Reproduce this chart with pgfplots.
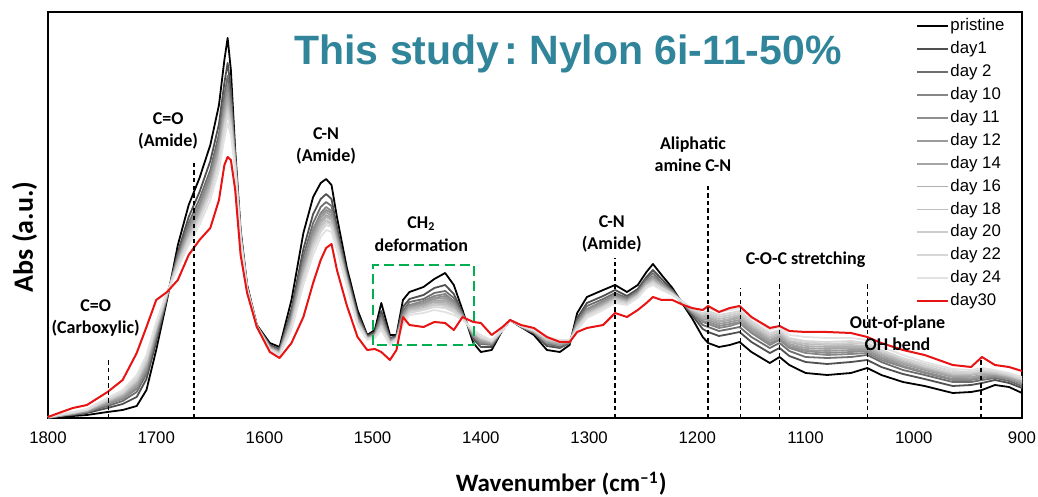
\documentclass[border=0pt]{standalone}
\usepackage{pgfplots}
\pgfplotsset{compat=1.18}
\usepackage{pgfplotstable}
\usepackage{fontspec}
\setmainfont{Liberation Sans}
\newfontfamily\calibri{Carlito}

\definecolor{titleteal}{RGB}{49,133,155}
\definecolor{boxgreen}{RGB}{0,176,80}
\definecolor{c1}{RGB}{80,80,80}
\definecolor{c2}{RGB}{110,110,110}
\definecolor{c10}{RGB}{135,135,135}
\definecolor{c11}{RGB}{142,142,142}
\definecolor{c12}{RGB}{155,155,155}
\definecolor{c14}{RGB}{165,165,165}
\definecolor{c16}{RGB}{176,176,176}
\definecolor{c18}{RGB}{190,190,190}
\definecolor{c20}{RGB}{205,205,205}
\definecolor{c22}{RGB}{215,215,215}
\definecolor{c24}{RGB}{226,226,226}
\definecolor{c30}{RGB}{232,20,20}

% absorbance (arbitrary units, 0 = bottom of frame)
\pgfplotstableread{
w    B   d1  d2  d10 d11 d12 d14 d16 d18 d20 d22 d24 R
1800 0   0   0   1   1   1   1   1   1   1   1   1   1
1790 1   2   2   2   2   2   2   3   3   3   3   3   5
1777 2   3   4   4   4   5   5   5   5   5   6   6   10
1764 3   5   6   6   7   7   7   8   8   8   8   9   13
1745 6   10  12  14  14  15  16  17  17  18  19  20  26
1731 8   14  17  19  20  21  22  23  24  25  26  28  38
1718 12  21  26  29  31  32  34  35  37  38  40  43  65
1709 28  39  44  47  49  51  53  54  56  58  60  63  91
1700 68  76  81  83  85  86  88  89  90  92  93  96  118
1690 118 120 122 122 123 123 124 124 124 125 125 126 126
1680 173 166 163 160 159 158 157 156 155 153 152 150 138
1670 213 201 195 191 189 187 185 183 181 179 177 173 163
1660 240 226 219 214 212 209 207 205 202 200 198 193 178
1650 273 257 248 243 240 237 235 232 229 226 224 218 190
1642 313 294 284 277 274 271 268 264 261 258 255 248 218
1637 358 335 323 315 311 307 303 300 296 292 288 280 253
1634 380 355 342 333 329 325 321 316 312 308 304 295 261
1631 348 329 319 312 309 306 303 299 296 293 290 283 258
1627 268 262 259 257 256 255 254 253 252 251 250 248 228
1622 188 185 184 183 182 182 181 181 180 180 179 178 163
1616 133 132 131 130 130 130 130 129 129 129 129 128 125
1607 93  92  92  92  92  92  92  92  91  91  91  91  91
1595 75  73  72  71  71  70  70  70  69  69  69  68  66
1586 71  69  67  67  66  66  65  65  65  64  64  63  60
1575 118 109 105 102 100 99  97  96  94  93  91  88  75
1564 185 169 162 156 154 151 149 146 143 141 138 133 101
1555 221 204 195 189 186 183 180 178 175 172 169 163 135
1548 235 219 211 205 203 200 197 195 192 189 186 181 158
1543 239 224 216 211 208 206 203 201 198 196 193 188 170
1538 233 219 212 207 205 202 200 198 195 193 191 186 174
1533 201 191 186 183 181 180 178 176 175 173 171 168 148
1524 151 146 143 141 140 139 138 138 137 136 135 133 113
1514 108 104 101 100 99  98  98  97  96  95  95  93  81
1505 83  82  81  80  80  80  80  79  79  79  79  78  68
1498 88  86  84  84  83  83  82  82  82  81  81  80  69
1492 115 107 103 100 99  97  96  95  93  92  91  88  66
1484 83  80  79  78  77  77  76  76  75  75  74  73  58
1478 83  82  81  80  80  80  80  79  79  79  79  78  68
1472 118 111 107 104 103 102 101 99  98  97  96  93  101
1466 126 119 116 113 112 111 110 109 108 106 105 103 93
1453 131 123 119 117 115 114 113 112 110 109 108 105 91
1443 139 130 125 122 120 119 117 116 114 113 111 108 96
1433 145 133 127 124 122 120 118 116 114 112 110 106 95
1425 133 124 120 117 115 114 112 111 109 108 106 103 88
1417 108 105 104 103 102 102 101 101 100 100 99  98  101
1407 75  79  81  82  83  83  84  85  85  86  87  88  96
1400 66  71  74  75  76  77  78  79  80  80  81  83  95
1390 68  71  73  74  74  75  75  76  76  77  77  78  83
1380 88  88  88  88  88  88  88  88  88  88  88  88  91
1373 98  98  98  98  98  98  98  98  98  98  98  98  98
1363 91  91  91  92  92  92  92  92  92  92  92  92  93
1351 83  85  85  86  86  86  87  87  87  87  88  88  90
1339 68  72  74  75  76  76  77  78  78  79  80  81  81
1327 66  70  71  73  73  74  74  75  76  76  77  78  76
1318 73  75  75  76  76  76  77  77  77  77  78  78  76
1311 105 100 97  96  95  94  93  92  91  91  90  88  86
1302 121 115 112 109 108 107 106 105 104 103 102 100 90
1287 128 122 119 117 116 115 114 113 112 111 110 108 93
1276 133 128 125 123 122 121 120 120 119 118 117 115 105
1265 126 122 120 119 118 118 117 116 116 115 114 113 101
1255 133 129 127 126 125 125 124 123 123 122 121 120 108
1247 146 141 139 137 136 136 135 134 133 132 132 130 115
1241 154 148 145 142 141 140 139 138 137 136 135 133 121
1233 143 139 136 135 134 133 133 132 131 130 130 128 118
1223 130 128 127 126 126 125 125 125 124 124 124 123 118
1213 113 114 114 115 115 115 115 115 115 116 116 116 113
1205 100 103 105 106 106 107 107 108 108 109 109 110 110
1195 81  89  93  96  97  99  100 101 103 104 105 108 108
1190 75  86  91  94  96  98  100 101 103 105 107 110 112
1180 71  82  87  90  92  94  96  97  99  101 103 106 106
1170 73  84  89  92  94  96  98  99  101 103 105 108 110
1161 76  86  91  95  96  98  100 102 103 105 107 110 112
1150 66  76  81  85  86  88  90  92  93  95  97  100 101
1133 55  65  70  73  75  77  78  80  81  83  85  88  90
1124 61  70  75  78  79  81  82  84  85  87  88  91  92
1115 53  62  67  70  71  73  74  76  77  79  80  83  87
1100 45  56  61  65  67  68  70  72  74  76  77  81  86
1080 43  54  60  63  65  67  69  71  73  74  76  80  86
1058 45  56  61  64  66  68  70  71  73  75  77  80  85
1043 50  58  63  65  67  68  70  71  72  74  75  78  81
1030 43  51  56  58  60  61  63  64  65  67  68  71  75
1010 36  44  48  51  52  54  55  56  58  59  60  63  68
990  32  39  43  45  46  48  49  50  51  52  54  56  63
964  25  32  36  38  39  41  42  43  44  45  47  49  53
947  26  33  36  38  39  40  41  43  44  45  46  48  51
937  28  35  38  40  41  42  43  45  46  47  48  50  61
925  33  38  40  41  42  43  44  44  45  46  47  48  53
912  31  35  37  39  39  40  41  42  42  43  44  45  51
900  25  30  32  34  35  35  36  37  38  39  39  41  47
}\spectra

\begin{document}
\begin{tikzpicture}[
  vline/.style={black,line width=0.65pt,dash pattern=on 2.2pt off 1.6pt},
  note/.style={align=center,font=\calibri\bfseries\fontsize{9}{11.2}\selectfont},
]
\begin{axis}[
  scale only axis,
  width=487pt, height=203pt,
  xmin=900, xmax=1800, x dir=reverse,
  ymin=0, ymax=406,
  ytick=\empty,
  xtick={900,1000,...,1800},
  xtick style={draw=none},
  xticklabel style={font=\fontsize{8.4}{10}\selectfont,yshift=-3.2pt},
  /pgf/number format/1000 sep={},
  /pgf/number format/assume math mode=true,
  axis line style={line width=0.9pt},
  clip=false,
  xlabel={Wavenumber (cm\textsuperscript{–1})},
  xlabel style={font=\calibri\bfseries\fontsize{12.5}{14}\selectfont,
    at={(axis description cs:0.527,-0.162)},anchor=center},
  ylabel={Abs (a.u.)},
  ylabel style={font=\calibri\bfseries\fontsize{14}{16}\selectfont,
    at={(axis description cs:-0.024,0.446)},anchor=center,rotate=0},
  legend cell align=left,
  legend style={at={(axis description cs:0.891,0.988)},anchor=north west,
    draw=none,fill=none,inner sep=0pt,row sep=2.45pt,
    font=\fontsize{8.4}{10}\selectfont,
    nodes={inner sep=0.6pt,text height=6.2pt,text depth=1.6pt}},
  legend image code/.code={\draw[#1] (0pt,0pt) -- (15.5pt,0pt);},
  every axis plot/.append style={line width=0.9pt,line join=round},
]
\addplot[black]  table[x=w,y=B]   {\spectra}; \addlegendentry{pristine}
\addplot[c1]     table[x=w,y=d1]  {\spectra}; \addlegendentry{day1}
\addplot[c2]     table[x=w,y=d2]  {\spectra}; \addlegendentry{day 2}
\addplot[c10]    table[x=w,y=d10] {\spectra}; \addlegendentry{day 10}
\addplot[c11]    table[x=w,y=d11] {\spectra}; \addlegendentry{day 11}
\addplot[c12]    table[x=w,y=d12] {\spectra}; \addlegendentry{day 12}
\addplot[c14]    table[x=w,y=d14] {\spectra}; \addlegendentry{day 14}
\addplot[c16]    table[x=w,y=d16] {\spectra}; \addlegendentry{day 16}
\addplot[c18]    table[x=w,y=d18] {\spectra}; \addlegendentry{day 18}
\addplot[c20]    table[x=w,y=d20] {\spectra}; \addlegendentry{day 20}
\addplot[c22]    table[x=w,y=d22] {\spectra}; \addlegendentry{day 22}
\addplot[c24]    table[x=w,y=d24] {\spectra}; \addlegendentry{day 24}
\addplot[c30,line width=1pt] table[x=w,y=R] {\spectra}; \addlegendentry{day30}

% band markers
\draw[vline] (axis cs:1744,0) -- (axis cs:1744,60);
\draw[vline] (axis cs:1665,0) -- (axis cs:1665,256);
\draw[vline] (axis cs:1276,0) -- (axis cs:1276,160);
\draw[vline] (axis cs:1190,0) -- (axis cs:1190,232);
\draw[vline] (axis cs:1160,0) -- (axis cs:1160,130);
\draw[vline] (axis cs:1124,0) -- (axis cs:1124,135);
\draw[vline] (axis cs:1043,0) -- (axis cs:1043,135);
\draw[vline] (axis cs:938,0) -- (axis cs:938,58);
\draw[boxgreen,line width=1.1pt,dash pattern=on 5pt off 2.6pt]
  (axis cs:1500,73) rectangle (axis cs:1406,153);

\node[note] at (axis cs:1756,100) {C=O\\(Carboxylic)};
\node[note] at (axis cs:1689,287) {C=O\\(Amide)};
\node[note] at (axis cs:1543,272) {C-N\\(Amide)};
\node[note] at (axis cs:1455,184) {CH\textsubscript{2}\\deformation};
\node[note] at (axis cs:1279,184) {C-N\\(Amide)};
\node[note] at (axis cs:1204,264) {Aliphatic\\amine C-N};
\node[note] at (axis cs:1100,158) {C-O-C stretching};
\node[note] at (axis cs:1015,85) {Out-of-plane\\OH bend};

\node[anchor=base,text=titleteal,font=\bfseries\fontsize{20.5}{24}\selectfont,inner sep=0pt]
  at (axis cs:1319.5,353) {This study\kern0.12em:\kern0.28em Nylon 6i-11-50\%};

\coordinate (bbl) at (axis cs:1844.35,-79);
\coordinate (btr) at (axis cs:885.2,418);
\end{axis}
\pgfresetboundingbox
\path[use as bounding box] (bbl) rectangle (btr);
\end{tikzpicture}
\end{document}
